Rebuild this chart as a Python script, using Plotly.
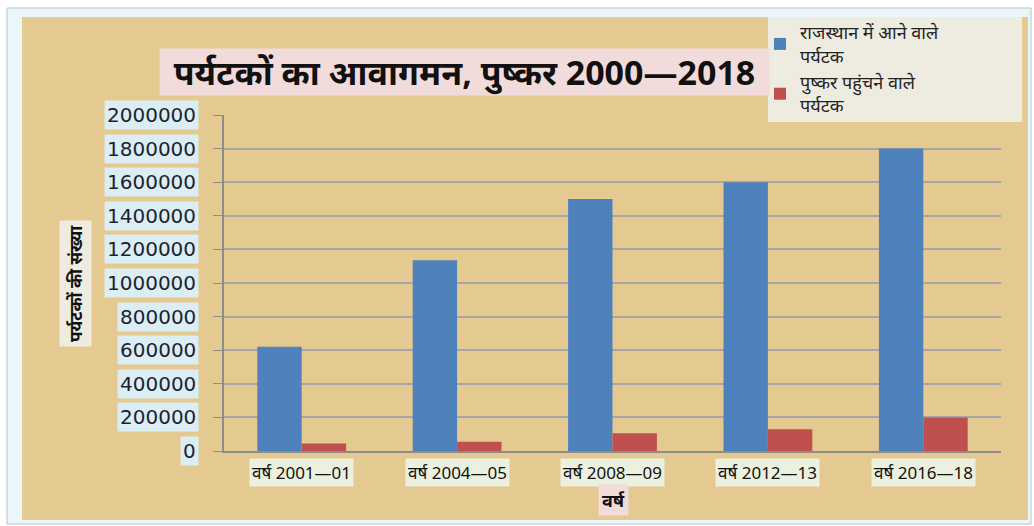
import plotly.graph_objects as go

# ---- data ----
categories = ["वर्ष 2001—01", "वर्ष 2004—05", "वर्ष 2008—09", "वर्ष 2012—13", "वर्ष 2016—18"]
rajasthan_visitors = [620000, 1135000, 1500000, 1600000, 1800000]
pushkar_visitors = [45000, 55000, 105000, 130000, 200000]
series_names = ["राजस्थान में आने वाले<br>पर्यटक", "पुष्कर पहुंचने वाले<br>पर्यटक"]
y_ticks = [0, 200000, 400000, 600000, 800000, 1000000, 1200000, 1400000, 1600000, 1800000, 2000000]
title_text = "पर्यटकों का आवागमन, पुष्कर 2000—2018"
x_title = "वर्ष"
y_title = "पर्यटकों की संख्या"

W, H = 1034, 526
L, R, T, B = 224, 33, 115, 75
PW, PH = W - L - R, H - T - B

def px_x(px):
    return (px - L) / PW

def px_y(py):
    return (H - B - py) / PH

FONT = "Noto Sans, Arial, sans-serif"

fig = go.Figure()
fig.add_bar(x=categories, y=rajasthan_visitors, name=series_names[0],
            marker=dict(color="#4F81BD", line=dict(width=0)))
fig.add_bar(x=categories, y=pushkar_visitors, name=series_names[1],
            marker=dict(color="#C0504D", line=dict(width=0)))

shapes = [
    # outer frame
    dict(type="rect", xref="paper", yref="paper", x0=px_x(7), x1=px_x(1031), y0=px_y(524), y1=px_y(8),
         fillcolor="#EAF6FA", line=dict(color="#B8C4C8", width=1), layer="below"),
    # parchment chart area
    dict(type="rect", xref="paper", yref="paper", x0=px_x(22), x1=px_x(1028), y0=px_y(520), y1=px_y(17),
         fillcolor="#E4C990", line=dict(width=0), layer="below"),
    # legend box
    dict(type="rect", xref="paper", yref="paper", x0=px_x(768), x1=px_x(1022), y0=px_y(122), y1=px_y(17),
         fillcolor="#EEECE1", line=dict(width=0), layer="above"),
]

annotations = []
# chart title
annotations.append(dict(xref="paper", yref="paper", x=px_x(159), y=px_y(72), xanchor="left", yanchor="middle",
                        text="<b>" + title_text + "</b>", showarrow=False, bgcolor="#F2DCDB",
                        width=609, height=46, align="center", borderpad=0,
                        font=dict(family=FONT, size=34, color="#111111")))
# y tick labels with boxes
for v in y_ticks:
    annotations.append(dict(xref="paper", yref="y", x=0, y=v, xshift=-25, xanchor="right", yanchor="middle",
                            text=str(v), showarrow=False, bgcolor="#DAEEF3", borderpad=2,
                            font=dict(family="DejaVu Sans, sans-serif", size=20, color="#1F1F33")))
# x tick labels with boxes
for c in categories:
    annotations.append(dict(xref="x", yref="paper", x=c, y=0, yshift=-21, xanchor="center", yanchor="middle",
                            text=c, showarrow=False, bgcolor="#EBF1DE", borderpad=2,
                            font=dict(family=FONT, size=17, color="#111111")))
# axis titles
annotations.append(dict(xref="paper", yref="paper", x=px_x(613), y=0, yshift=-49, xanchor="center", yanchor="middle",
                        text="<b>" + x_title + "</b>", showarrow=False, bgcolor="#F2DCDB", borderpad=3,
                        font=dict(family=FONT, size=18, color="#111111")))
annotations.append(dict(xref="paper", yref="paper", x=px_x(75), y=px_y(284), xanchor="center", yanchor="middle",
                        text="<b>" + y_title + "</b>", textangle=-90, showarrow=False, bgcolor="#EEECE1",
                        borderpad=4, font=dict(family=FONT, size=17, color="#111111")))

fig.update_layout(
    width=W, height=H,
    margin=dict(l=L, r=R, t=T, b=B, autoexpand=False),
    paper_bgcolor="white",
    plot_bgcolor="white",
    barmode="group",
    bargap=0.4286,
    bargroupgap=0,
    shapes=shapes,
    annotations=annotations,
    legend=dict(x=px_x(760), y=px_y(14), xanchor="left", yanchor="top",
                bgcolor="rgba(0,0,0,0)", font=dict(family=FONT, size=18, color="#222222"),
                traceorder="normal", itemsizing="constant", tracegroupgap=12, itemwidth=30),
    xaxis=dict(showticklabels=False, showgrid=False, showline=True, linecolor="#8C8C8C", linewidth=1.5,
               ticks="", fixedrange=True),
    yaxis=dict(range=[0, 2000000], tickvals=y_ticks, showticklabels=False, showgrid=True,
               gridcolor="#A6A6A6", gridwidth=1.5, showline=True, linecolor="#8C8C8C", linewidth=1.5,
               ticks="outside", ticklen=9, tickcolor="#8C8C8C", zeroline=False, fixedrange=True),
)

fig.write_html("out.html", config={"displayModeBar": False},
               post_script="document.body.style.margin='0';document.body.style.padding='0';")
